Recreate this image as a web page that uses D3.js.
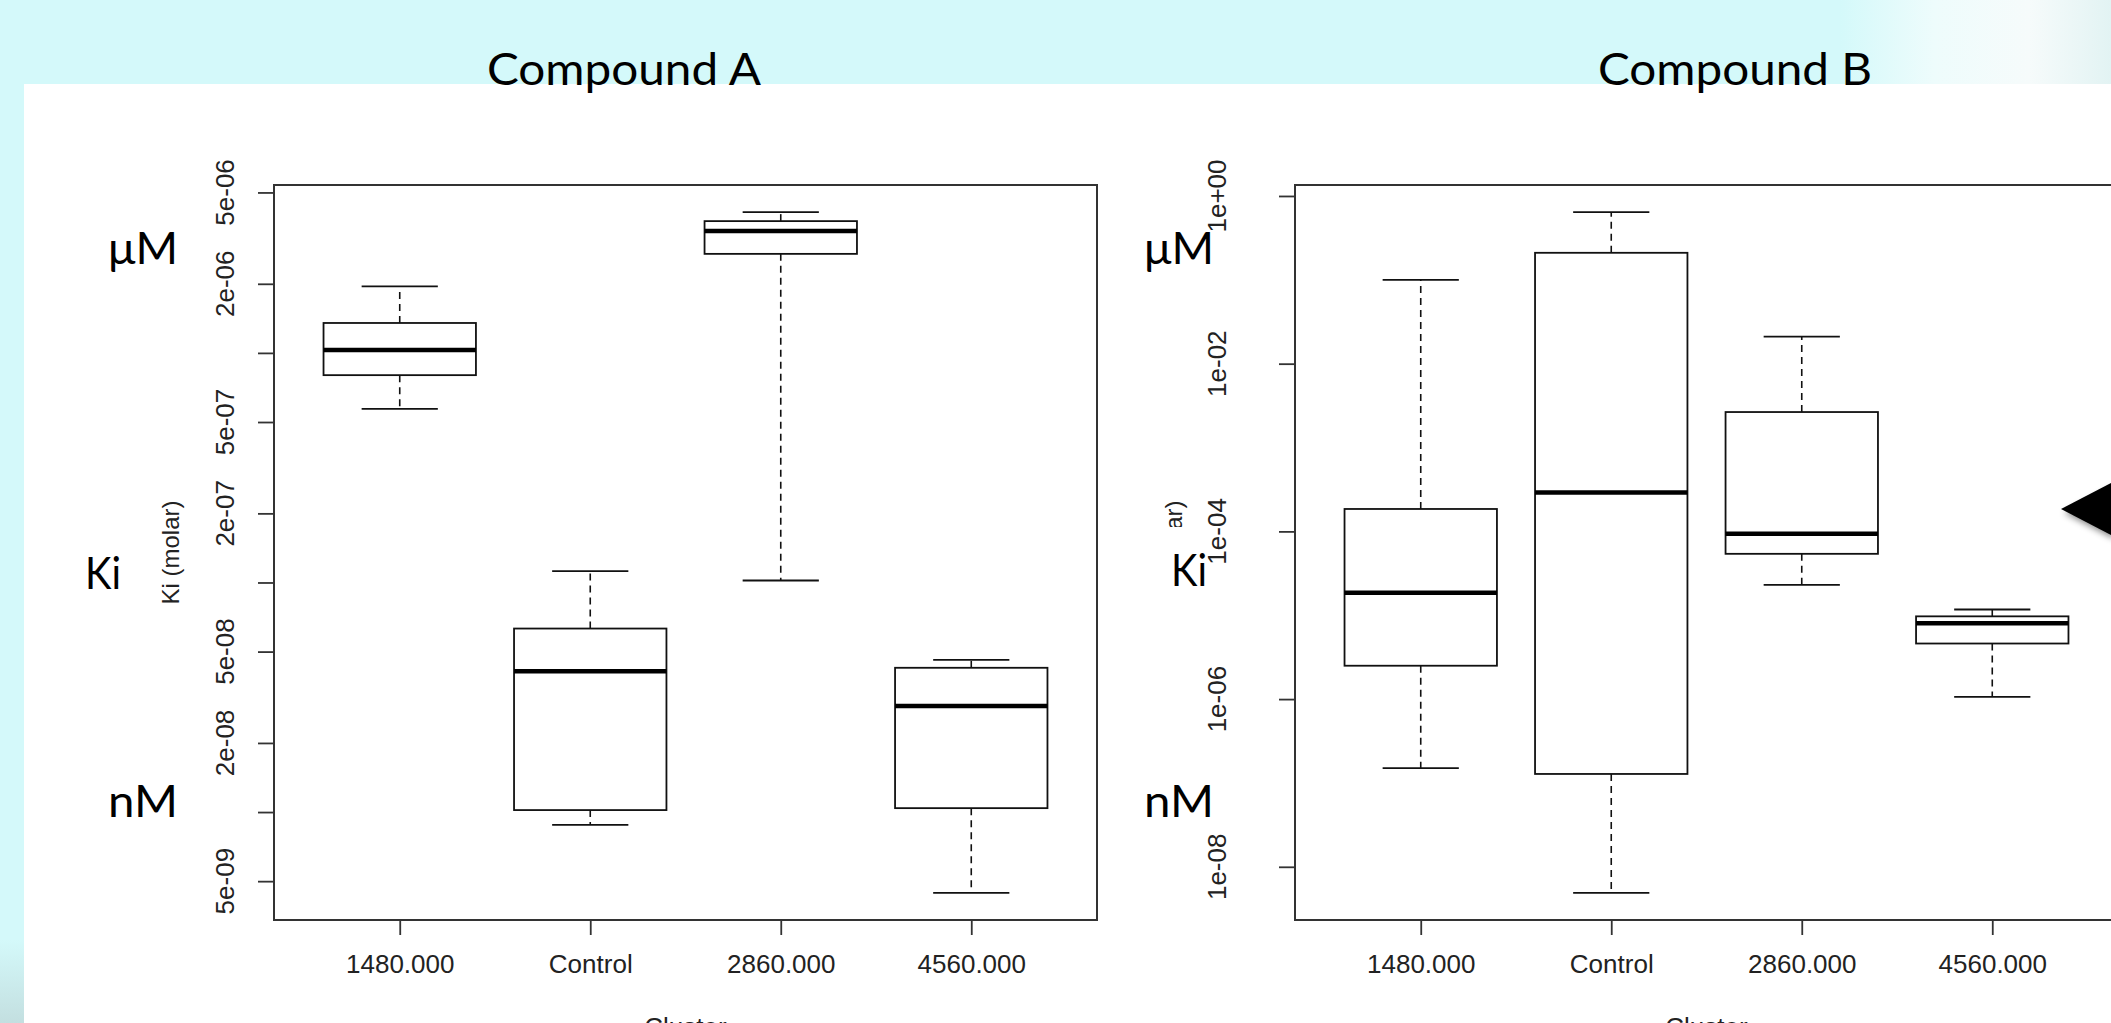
<!doctype html>
<html lang="en">
<head>
<meta charset="utf-8">
<title>Ki by cluster</title>
<script src="https://d3js.org/d3.v7.min.js"></script>
<style>
  body { margin:0; background:#d4f9fa; overflow:hidden; }
  svg { display:block; }
</style>
</head>
<body>
<script>
const W = 2111, H = 1023;

const clusters = ["1480.000", "Control", "2860.000", "4560.000"];

// Compound A, Ki (molar) - whisker ends, quartiles, median
const aLow  = [5.7e-7, 8.8e-9, 1.02e-7, 4.45e-9];
const aQ1   = [8.0e-7, 1.02e-8, 2.7e-6, 1.04e-8];
const aMed  = [1.03e-6, 4.1e-8, 3.4e-6, 2.9e-8];
const aQ3   = [1.35e-6, 6.3e-8, 3.75e-6, 4.25e-8];
const aHigh = [1.95e-6, 1.12e-7, 4.1e-6, 4.6e-8];

// Compound B
const bLow  = [1.5e-7, 4.9e-9, 2.3e-5, 1.06e-6];
const bQ1   = [2.5e-6, 1.28e-7, 5.4e-5, 4.6e-6];
const bMed  = [1.85e-5, 2.9e-4, 9.4e-5, 8.0e-6];
const bQ3   = [1.85e-4, 0.21, 2.65e-3, 9.7e-6];
const bHigh = [0.1, 0.64, 0.021, 1.17e-5];

const aTicks = [5e-6, 2e-6, 1e-6, 5e-7, 2e-7, 1e-7, 5e-8, 2e-8, 1e-8, 5e-9];
const aTickLabels = ["5e-06", "2e-06", "", "5e-07", "2e-07", "", "5e-08", "2e-08", "", "5e-09"];
const bTicks = [1, 1e-2, 1e-4, 1e-6, 1e-8];
const bTickLabels = ["1e+00", "1e-02", "1e-04", "1e-06", "1e-08"];

const rFont = "'Liberation Sans', Arial, sans-serif";
const slideFont = "Lato, 'Open Sans', sans-serif";

const svg = d3.select("body").append("svg")
    .attr("width", W).attr("height", H);

const defs = svg.append("defs");
const tr = defs.append("linearGradient").attr("id", "topright")
    .attr("x1", 0).attr("x2", 1).attr("y1", 0).attr("y2", 0);
tr.append("stop").attr("offset", 0).attr("stop-color", "#d4f9fa");
tr.append("stop").attr("offset", 0.35).attr("stop-color", "#eefcfc");
tr.append("stop").attr("offset", 0.7).attr("stop-color", "#f6fbfb");
tr.append("stop").attr("offset", 1).attr("stop-color", "#e2f3f3");
const bl = defs.append("linearGradient").attr("id", "botleft")
    .attr("x1", 0).attr("x2", 0).attr("y1", 0).attr("y2", 1);
bl.append("stop").attr("offset", 0).attr("stop-color", "#d4f9fa");
bl.append("stop").attr("offset", 1).attr("stop-color", "#c3dfe0");
const sh = defs.append("filter").attr("id", "shadow")
    .attr("x", "-50%").attr("y", "-50%").attr("width", "200%").attr("height", "200%");
sh.append("feDropShadow").attr("dx", 3).attr("dy", 4).attr("stdDeviation", 3)
    .attr("flood-color", "#000").attr("flood-opacity", 0.45);

// slide background pieces
svg.append("rect").attr("x", 1840).attr("y", 0).attr("width", W - 1840).attr("height", 84)
    .attr("fill", "url(#topright)");
svg.append("rect").attr("x", 0).attr("y", 940).attr("width", 24).attr("height", H - 940)
    .attr("fill", "url(#botleft)");
svg.append("rect").attr("x", 24).attr("y", 84).attr("width", W - 24).attr("height", H - 84)
    .attr("fill", "#fff");

const plotTop = 185, plotBottom = 920, boxW = 823;

function drawPanel(p) {
    const g = svg.append("g");

    const lo = Math.log10(d3.min(p.low)), hi = Math.log10(d3.max(p.high));
    const pad = 0.04 * (hi - lo);
    const y = d3.scaleLog().domain([10 ** (lo - pad), 10 ** (hi + pad)]).range([plotBottom, plotTop]);
    const x = d3.scaleLinear().domain([0.34, 4.66]).range([p.left, p.left + boxW]);
    const half = (x(1.4) - x(1));
    const stHalf = half / 2;

    // title
    svg.append("text").attr("x", p.titleX).attr("y", 85)
        .attr("text-anchor", "middle")
        .attr("font-family", slideFont).attr("font-size", 44)
        .attr("textLength", 274).attr("lengthAdjust", "spacingAndGlyphs")
        .attr("fill", "#000").text(p.title);

    // y axis title
    g.append("text")
        .attr("transform", `translate(${p.ylabX},${(plotTop + plotBottom) / 2}) rotate(-90)`)
        .attr("text-anchor", "middle")
        .attr("font-family", rFont).attr("font-size", 24).attr("fill", "#222")
        .text("Ki (molar)");

    // axes
    const yAxis = d3.axisLeft(y).tickValues(p.ticks).tickFormat("").tickSize(16);
    const ya = g.append("g").attr("transform", `translate(${p.left},0)`).call(yAxis);
    ya.select(".domain").remove();
    ya.selectAll("line").attr("stroke", "#333").attr("stroke-width", 1.8);

    const xAxis = d3.axisBottom(x).tickValues([1, 2, 3, 4])
        .tickFormat(d => clusters[d - 1]).tickSize(15).tickPadding(20);
    const xa = g.append("g").attr("transform", `translate(0,${plotBottom})`).call(xAxis);
    xa.select(".domain").remove();
    xa.selectAll("line").attr("stroke", "#333").attr("stroke-width", 1.8);
    xa.selectAll("text").attr("font-family", rFont).attr("font-size", 26).attr("fill", "#222");

    g.append("text").attr("x", p.left + boxW / 2).attr("y", 1036)
        .attr("text-anchor", "middle")
        .attr("font-family", rFont).attr("font-size", 26).attr("fill", "#222")
        .text("Cluster");

    // boxes
    const rows = clusters.map((c, i) => ({
        i: i + 1, low: p.low[i], q1: p.q1[i], med: p.med[i], q3: p.q3[i], high: p.high[i]
    }));
    const b = g.selectAll(".box").data(rows).join("g");

    b.append("line")
        .attr("x1", d => x(d.i)).attr("x2", d => x(d.i))
        .attr("y1", d => y(d.q3)).attr("y2", d => y(d.high))
        .attr("stroke", "#111").attr("stroke-width", 1.6).attr("stroke-dasharray", "7,5");
    b.append("line")
        .attr("x1", d => x(d.i)).attr("x2", d => x(d.i))
        .attr("y1", d => y(d.q1)).attr("y2", d => y(d.low))
        .attr("stroke", "#111").attr("stroke-width", 1.6).attr("stroke-dasharray", "7,5");
    b.append("line")
        .attr("x1", d => x(d.i) - stHalf).attr("x2", d => x(d.i) + stHalf)
        .attr("y1", d => y(d.high)).attr("y2", d => y(d.high))
        .attr("stroke", "#111").attr("stroke-width", 1.8);
    b.append("line")
        .attr("x1", d => x(d.i) - stHalf).attr("x2", d => x(d.i) + stHalf)
        .attr("y1", d => y(d.low)).attr("y2", d => y(d.low))
        .attr("stroke", "#111").attr("stroke-width", 1.8);
    b.append("rect")
        .attr("x", d => x(d.i) - half).attr("width", 2 * half)
        .attr("y", d => y(d.q3)).attr("height", d => y(d.q1) - y(d.q3))
        .attr("fill", "#fff").attr("stroke", "#111").attr("stroke-width", 1.8);
    b.append("line")
        .attr("x1", d => x(d.i) - half).attr("x2", d => x(d.i) + half)
        .attr("y1", d => y(d.med)).attr("y2", d => y(d.med))
        .attr("stroke", "#000").attr("stroke-width", 4.5);

    // plot frame
    g.append("rect").attr("x", p.left).attr("y", plotTop)
        .attr("width", boxW).attr("height", plotBottom - plotTop)
        .attr("fill", "none").attr("stroke", "#333").attr("stroke-width", 2);

    // slide annotations; the Ki text box hides most of the axis title
    p.notes.forEach(n => {
        if (n.cover) {
            svg.append("rect").attr("x", n.x - 22).attr("y", n.y - 59)
                .attr("width", n.w + 14).attr("height", 107).attr("fill", "#fff");
        }
        svg.append("text").attr("x", n.x).attr("y", n.y)
            .attr("font-family", slideFont).attr("font-size", 44)
            .attr("textLength", n.w).attr("lengthAdjust", "spacingAndGlyphs")
            .attr("fill", "#000").text(n.t);
    });

    // tick labels drawn last so nothing covers them
    g.selectAll(".ylab").data(p.ticks.map((t, i) => ({ t: t, s: p.tickLabels[i] })))
        .join("text")
        .attr("transform", d => `translate(${p.left - p.tickLabOff},${y(d.t)}) rotate(-90)`)
        .attr("text-anchor", "middle")
        .attr("font-family", rFont).attr("font-size", 26).attr("fill", "#222")
        .text(d => d.s);
}

drawPanel({
    title: "Compound A", titleX: 624, left: 274, ylabX: 179, tickLabOff: 40,
    low: aLow, q1: aQ1, med: aMed, q3: aQ3, high: aHigh,
    ticks: aTicks, tickLabels: aTickLabels,
    notes: [{ t: "μM", x: 108, y: 264, w: 70 }, { t: "Ki", x: 85, y: 589, w: 36 }, { t: "nM", x: 108, y: 817, w: 70 }]
});

drawPanel({
    title: "Compound B", titleX: 1735, left: 1295, ylabX: 1182, tickLabOff: 69,
    low: bLow, q1: bQ1, med: bMed, q3: bQ3, high: bHigh,
    ticks: bTicks, tickLabels: bTickLabels,
    notes: [{ t: "μM", x: 1144, y: 264, w: 70 }, { t: "Ki", x: 1171, y: 586, w: 36, cover: true }, { t: "nM", x: 1144, y: 817, w: 70 }]
});

// arrow at right edge
svg.append("path")
    .attr("d", d3.line()([[2061, 509], [2111, 483], [2111, 535]]) + "Z")
    .attr("fill", "#000").attr("filter", "url(#shadow)");
</script>
</body>
</html>
